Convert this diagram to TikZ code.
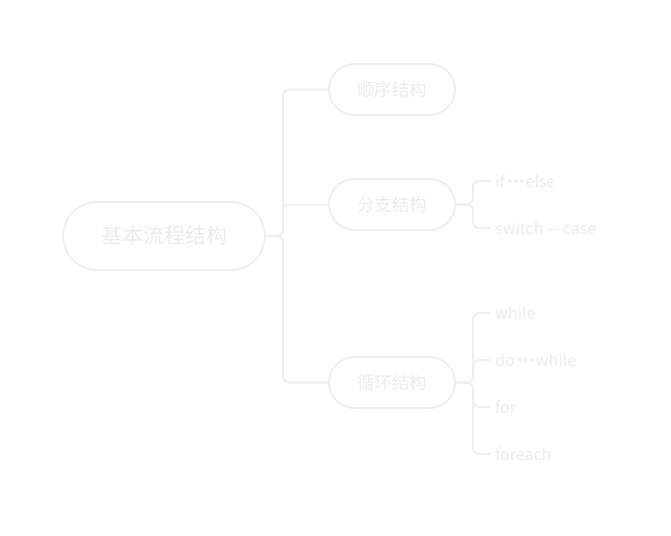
\documentclass[tikz,border=0pt]{standalone}
\usepackage{fontspec}
\setmainfont{Noto Sans CJK SC}
\usetikzlibrary{shapes.misc}
\definecolor{mmline}{HTML}{EFEFEF}
\definecolor{mmtext}{HTML}{EBEBEB}
\newcommand{\mmdots}{\makebox[6pt][c]{·}\makebox[6pt][c]{·}\makebox[6pt][c]{·}}
\begin{document}
\begin{tikzpicture}[x=1pt,y=-1pt]

    \tikzset{
      topic/.style={
        draw=mmline,
        line width=2pt,
        rounded rectangle,
        text=mmtext,
        inner sep=0pt,
      },
      leaf/.style={
        text=mmtext,
        anchor=west,
        inner sep=0pt,
        font=\fontsize{16}{18}\selectfont,
      },
      branch/.style={
        draw=mmline,
        line width=2pt,
        rounded corners=6pt,
      },
    }
    \useasboundingbox (0,0) rectangle (671,535);
	\node[topic,minimum width=202pt,minimum height=68pt,font=\fontsize{21}{24}\selectfont] (root) at (164,236) {基本流程结构};
	\node[topic,minimum width=126pt,minimum height=51pt,font=\fontsize{17.5}{20}\selectfont] (seq) at (392,89.5) {顺序结构};
	\node[topic,minimum width=126pt,minimum height=51pt,font=\fontsize{17.5}{20}\selectfont] (sel) at (392,204.5) {分支结构};
	\node[topic,minimum width=126pt,minimum height=51pt,font=\fontsize{17.5}{20}\selectfont] (loop) at (392,382.5) {循环结构};

	\node[leaf] (ifelse) at (495,181) {if\kern2pt\mmdots\kern1pt else};
	\node[leaf] (switch) at (495,228) {switch\kern2.5pt—\kern2.5pt case};
	\node[leaf] (while) at (495,313) {while};
	\node[leaf] (dowhile) at (495,360) {do\kern2pt\mmdots\kern1pt while};
	\node[leaf] (for) at (495,407) {for};
	\node[leaf] (foreach) at (495,454) {foreach};

	\draw[branch] (root.east) -- ++(17,0) |- (seq.west);
	\draw[branch] (root.east) -- ++(17,0) |- (sel.west);
	\draw[branch] (root.east) -- ++(17,0) |- (loop.west);

	\draw[branch] (sel.east) -- ++(17,0) |- ([xshift=-5pt]ifelse.west);
	\draw[branch] (sel.east) -- ++(17,0) |- ([xshift=-5pt]switch.west);
	\foreach \n in {while,dowhile,for,foreach}
	  \draw[branch] (loop.east) -- ++(17,0) |- ([xshift=-5pt]\n.west);

\end{tikzpicture}
\end{document}
